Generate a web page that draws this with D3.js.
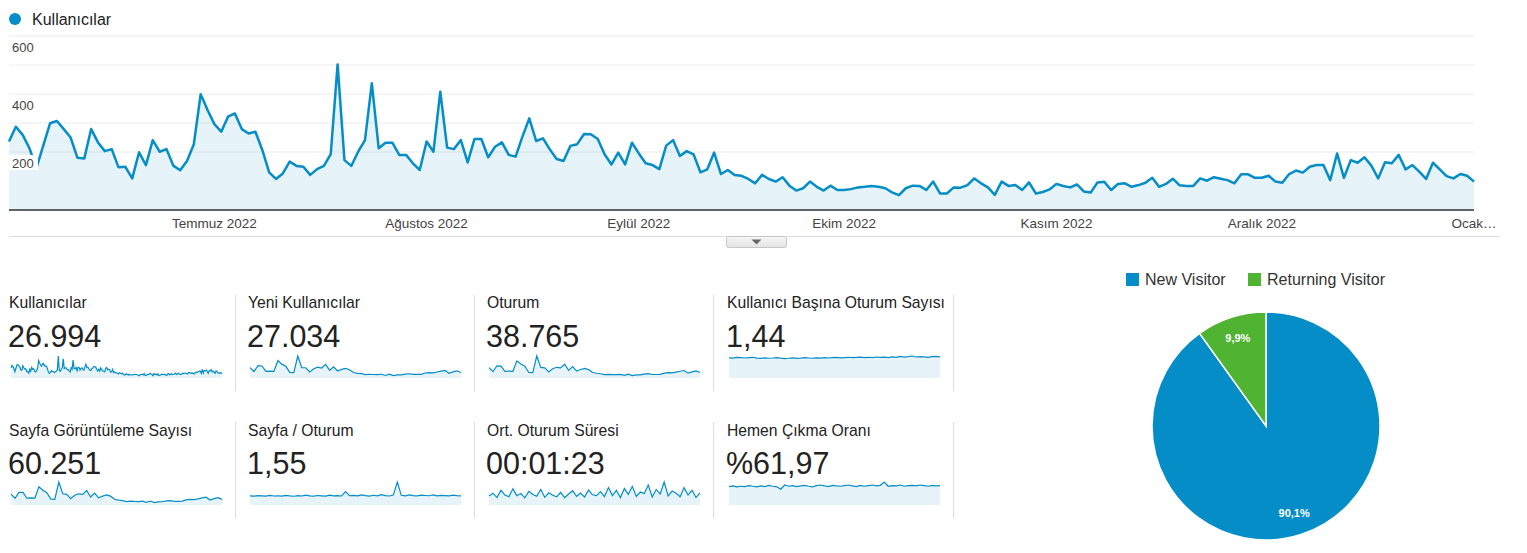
<!DOCTYPE html>
<html>
<head>
<meta charset="utf-8">
<script src="https://cdn.jsdelivr.net/npm/d3@7"></script>
<style>
  body { margin: 0; background: #fff; }
  svg text { font-family: "Liberation Sans", Arial, sans-serif; }
</style>
</head>
<body>
<div id="chart"></div>
<script>
var W = 1527, H = 553;
var blue = '#058DC7', green = '#50B432';

// daily users, 1 Jun 2022 .. 1 Jan 2023
var users = [
  236,287,259,212,144,222,299,307,279,250,180,178,279,233,203,210,147,149,109,199,155,241,201,210,153,137,169,227,399,345,296,270,322,333,279,264,
  270,207,130,107,126,167,152,149,121,141,152,193,502,172,152,201,241,437,213,232,232,190,190,161,138,236,201,408,215,210,241,164,245,245,182,
  218,233,190,184,253,316,238,247,209,176,169,221,227,262,261,245,192,157,198,157,232,195,161,155,141,222,241,186,203,192,130,140,198,124,138,121,
  118,107,92,121,107,98,113,84,67,75,98,80,67,84,69,69,72,78,80,83,80,75,61,51,75,84,83,69,98,57,57,78,77,86,109,
  92,78,52,98,83,86,69,95,57,62,71,90,83,78,88,64,60,95,97,69,90,92,80,86,94,111,80,90,108,85,83,83,109,101,113,108,103,
  92,123,123,111,111,118,98,94,124,136,129,149,155,155,103,195,111,172,163,182,153,109,165,161,190,140,155,132,107,163,140,117,109,124,118,98
];
var yTicks = [600, 400, 200];
var gridValues = [600, 500, 400, 300, 200];
var monthTicks = ['2022-07-01','2022-08-01','2022-09-01','2022-10-01','2022-11-01','2022-12-01','2023-01-01'];
var monthLabels = ['Temmuz 2022','Ağustos 2022','Eylül 2022','Ekim 2022','Kasım 2022','Aralık 2022','Ocak…'];

// sparklines (sampled roughly every 4 days)
var newUsersSpark = [238,150,282,276,150,160,150,402,318,268,128,125,505,238,235,140,212,248,230,312,178,258,160,198,220,190,126,108,100,76,86,80,76,86,58,88,54,70,72,90,98,82,81,84,115,125,118,138,156,174,110,142,165,126];
var sessionsSpark = [340,210,400,390,215,225,220,560,460,385,180,175,720,345,330,200,305,350,330,450,250,375,225,280,315,275,180,155,140,110,120,112,108,120,85,125,78,100,102,126,140,115,115,120,160,175,170,195,222,245,158,200,233,178];
var sessPerUserSpark = [1.42,1.40,1.45,1.43,1.41,1.44,1.46,1.40,1.38,1.42,1.39,1.41,1.44,1.40,1.37,1.39,1.42,1.38,1.40,1.43,1.41,1.39,1.42,1.40,1.44,1.41,1.43,1.45,1.42,1.44,1.46,1.43,1.45,1.47,1.44,1.46,1.43,1.48,1.45,1.47,1.44,1.49,1.46,1.52,1.47,1.50,1.55,1.48,1.51,1.49,1.46,1.50,1.52,1.49];
var pageViewsSpark = [370,230,430,430,230,240,235,620,500,420,200,190,780,380,360,215,330,380,360,490,270,405,245,300,345,300,195,165,150,115,130,120,115,130,90,135,82,108,110,137,150,125,125,130,175,190,185,210,240,265,170,215,250,190];
var pagesPerSessSpark = [1.52,1.48,1.55,1.50,1.46,1.58,1.49,1.53,1.47,1.60,1.51,1.45,1.56,1.49,1.62,1.50,1.48,1.57,1.52,1.46,1.63,1.51,1.55,1.49,2.20,1.53,1.58,1.50,1.66,1.54,1.48,1.61,1.52,1.70,1.55,1.49,1.64,3.80,1.60,1.52,1.68,1.55,1.50,1.62,1.57,1.53,1.66,1.51,1.59,1.54,1.50,1.62,1.56,1.52];
var durationSpark = [72,95,60,118,80,66,130,75,92,58,110,84,70,125,62,98,78,66,102,58,88,115,70,96,64,120,82,75,108,68,140,76,118,60,132,86,150,70,104,92,160,65,125,88,185,72,112,95,66,140,80,118,60,98];
var bounceSpark = [61,63,60,62,61,64,62,60,63,61,65,62,60,52,66,62,64,61,63,65,62,60,64,66,63,61,65,63,62,64,66,63,61,65,62,64,66,63,65,76,62,64,63,66,62,64,65,63,66,64,62,65,63,64];

var metricLabels = ['Kullanıcılar','Yeni Kullanıcılar','Oturum','Kullanıcı Başına Oturum Sayısı',
                    'Sayfa Görüntüleme Sayısı','Sayfa / Oturum','Ort. Oturum Süresi','Hemen Çıkma Oranı'];
var metricValues = ['26.994','27.034','38.765','1,44','60.251','1,55','00:01:23','%61,97'];
var metricSparks = [users, newUsersSpark, sessionsSpark, sessPerUserSpark, pageViewsSpark, pagesPerSessSpark, durationSpark, bounceSpark];

var visitorTypes = ['New Visitor','Returning Visitor'];
var visitorShares = [90.1, 9.9];
var visitorLabels = ['90,1%','9,9%'];

var svg = d3.select('#chart').append('svg')
  .attr('width', W)
  .attr('height', H);

// ---- main line chart ----
var start = new Date(2022, 5, 1);
var series = users.map(function(v, i) { return {date: d3.timeDay.offset(start, i), value: v}; });

var x = d3.scaleTime()
  .domain([start, new Date(2023, 0, 1)])
  .range([9, 1474]);
var y = d3.scaleLinear()
  .domain([0, 600])
  .range([210, 36]);

svg.append('circle')
  .attr('cx', 15).attr('cy', 19).attr('r', 6)
  .attr('fill', blue);
svg.append('text')
  .attr('x', 32).attr('y', 25)
  .attr('font-size', 16).attr('fill', '#222')
  .text('Kullanıcılar');

svg.append('g').selectAll('line')
  .data(gridValues)
  .join('line')
  .attr('x1', 9).attr('x2', 1474)
  .attr('y1', function(d) { return y(d); })
  .attr('y2', function(d) { return y(d); })
  .attr('stroke', '#ececec')
  .attr('stroke-width', 1);

var area = d3.area()
  .x(function(d) { return x(d.date); })
  .y0(y(0))
  .y1(function(d) { return y(d.value); });
var line = d3.line()
  .x(function(d) { return x(d.date); })
  .y(function(d) { return y(d.value); });

svg.append('path')
  .datum(series)
  .attr('d', area)
  .attr('fill', blue)
  .attr('fill-opacity', 0.1);
svg.append('path')
  .datum(series)
  .attr('d', line)
  .attr('fill', 'none')
  .attr('stroke', blue)
  .attr('stroke-width', 2.5)
  .attr('stroke-linejoin', 'round');

// y labels sit under their gridline on a white patch
var yl = svg.append('g').selectAll('g')
  .data(yTicks)
  .join('g')
  .attr('transform', function(d) { return 'translate(0,' + y(d) + ')'; });
yl.append('rect')
  .attr('x', 9).attr('y', 3)
  .attr('width', 29).attr('height', 15)
  .attr('fill', '#fff');
yl.append('text')
  .attr('x', 12).attr('y', 16)
  .attr('font-size', 13).attr('fill', '#444')
  .text(function(d) { return d; });

svg.append('line')
  .attr('x1', 9).attr('x2', 1474)
  .attr('y1', 210).attr('y2', 210)
  .attr('stroke', '#333').attr('stroke-width', 1.5);

svg.append('g').selectAll('text')
  .data(monthTicks)
  .join('text')
  .attr('x', function(d) { return x(new Date(d + 'T00:00:00')); })
  .attr('y', 228)
  .attr('text-anchor', 'middle')
  .attr('font-size', 13.5).attr('fill', '#444')
  .text(function(d, i) { return monthLabels[i]; });

svg.append('line')
  .attr('x1', 9).attr('x2', 1500)
  .attr('y1', 236.5).attr('y2', 236.5)
  .attr('stroke', '#ddd');

// collapse button
var grad = svg.append('defs').append('linearGradient')
  .attr('id', 'btn').attr('x1', 0).attr('x2', 0).attr('y1', 0).attr('y2', 1);
grad.append('stop').attr('offset', '0%').attr('stop-color', '#f7f7f7');
grad.append('stop').attr('offset', '100%').attr('stop-color', '#e2e2e2');
svg.append('rect')
  .attr('x', 726.5).attr('y', 236.5)
  .attr('width', 60).attr('height', 11)
  .attr('rx', 2)
  .attr('fill', 'url(#btn)')
  .attr('stroke', '#c8c8c8');
svg.append('path')
  .attr('d', 'M751.5,239.5 L761.5,239.5 L756.5,244.5 Z')
  .attr('fill', '#666');

// ---- metric tiles ----
var colX = [9, 248, 487, 727];
var rows = [
  {label: 308, value: 347, sparkTop: 356, sparkBottom: 378, sepTop: 295, sepBottom: 391},
  {label: 436, value: 474, sparkTop: 482, sparkBottom: 505, sepTop: 422, sepBottom: 518}
];

metricLabels.forEach(function(lbl, i) {
  var r = rows[Math.floor(i / 4)];
  var cx = colX[i % 4];
  var g = svg.append('g');

  g.append('text')
    .attr('x', cx).attr('y', r.label)
    .attr('font-size', 15.7).attr('fill', '#222')
    .text(lbl);
  g.append('text')
    .attr('x', cx - 1).attr('y', r.value)
    .attr('font-size', 30.5).attr('fill', '#222')
    .text(metricValues[i]);

  var data = metricSparks[i];
  var sx = d3.scaleLinear().domain([0, data.length - 1]).range([cx + 2, cx + 213]);
  var sy = d3.scaleLinear().domain([0, d3.max(data)]).range([r.sparkBottom, r.sparkTop]);

  g.append('path')
    .datum(data)
    .attr('d', d3.area()
      .x(function(d, j) { return sx(j); })
      .y0(r.sparkBottom)
      .y1(function(d) { return sy(d); }))
    .attr('fill', blue).attr('fill-opacity', 0.1);
  g.append('path')
    .datum(data)
    .attr('d', d3.line()
      .x(function(d, j) { return sx(j); })
      .y(function(d) { return sy(d); }))
    .attr('fill', 'none')
    .attr('stroke', blue)
    .attr('stroke-width', 1.2);

  g.append('line')
    .attr('x1', cx + 226.5).attr('x2', cx + 226.5)
    .attr('y1', r.sepTop).attr('y2', r.sepBottom)
    .attr('stroke', '#ddd');
});

// ---- pie ----
var legend = svg.append('g').selectAll('g')
  .data(visitorTypes)
  .join('g')
  .attr('transform', function(d, i) { return 'translate(' + [1126, 1248][i] + ',273)'; });
legend.append('rect')
  .attr('width', 13).attr('height', 13)
  .attr('fill', function(d, i) { return [blue, green][i]; });
legend.append('text')
  .attr('x', 19).attr('y', 12)
  .attr('font-size', 16).attr('fill', '#333')
  .text(function(d) { return d; });

var pie = d3.pie().sort(null).value(function(d) { return d; });
var arcs = pie(visitorShares);
var arc = d3.arc().innerRadius(0).outerRadius(114);
var labelArc = d3.arc().innerRadius(92).outerRadius(92);

var pg = svg.append('g').attr('transform', 'translate(1266,426)');
pg.selectAll('path')
  .data(arcs)
  .join('path')
  .attr('d', arc)
  .attr('fill', function(d, i) { return [blue, green][i]; })
  .attr('stroke', '#fff')
  .attr('stroke-width', 1.5);
pg.selectAll('text')
  .data(arcs)
  .join('text')
  .attr('transform', function(d) { return 'translate(' + labelArc.centroid(d) + ')'; })
  .attr('text-anchor', 'middle')
  .attr('dy', '0.35em')
  .attr('font-size', 11).attr('font-weight', 'bold')
  .attr('fill', '#fff')
  .text(function(d, i) { return visitorLabels[i]; });
</script>
</body>
</html>
